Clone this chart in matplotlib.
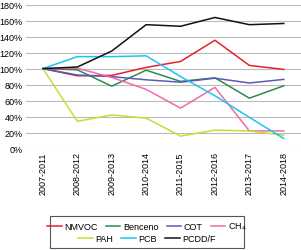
import matplotlib
matplotlib.use("Agg")
import matplotlib.pyplot as plt
from matplotlib.patches import Rectangle

periodos = ["2007-2011", "2008-2012", "2009-2013", "2010-2014",
            "2011-2015", "2012-2016", "2013-2017", "2014-2018"]

nmvoc = [100, 91, 91.5, 101.5, 109, 135.5, 104, 99]
benceno = [100, 98.5, 78, 98, 84, 88.5, 63, 78.5]
cot = [100, 92, 90, 86, 83, 88, 82, 86.5]
ch4 = [100, 100.5, 89, 74, 50.5, 76.5, 22, 22]
pah = [100, 34, 42, 38, 15.5, 23, 22, 16.5]
pcb = [100, 115, 115, 116, 90, 66, 39, 12.5]
pcdd = [100, 102, 122, 155, 153, 164, 155, 156.5]

series = [
    ("NMVOC", nmvoc, "#e8202a"),
    ("Benceno", benceno, "#2e8a4c"),
    ("COT", cot, "#5a5ab4"),
    ("CH$_4$", ch4, "#f06aaa"),
    ("PAH", pah, "#c8dc3a"),
    ("PCB", pcb, "#1cc4f0"),
    ("PCDD/F", pcdd, "#111111"),
]

plt.rcParams["font.family"] = ["Liberation Sans", "DejaVu Sans"]

fig = plt.figure(figsize=(3.01, 2.51), dpi=100)
ax = fig.add_axes([25.7 / 301, 1 - 149.5 / 251, 1 - 25.7 / 301, (149.5 - 5.7) / 251])

x = list(range(len(periodos)))
lines = {}
for name, vals, col in series:
    l, = ax.plot(x, vals, color=col, lw=1.1, label=name)
    lines[name] = l

ax.set_xlim(-0.5, len(periodos) - 0.5)
ax.set_ylim(0, 180)
ax.set_yticks(range(0, 181, 20))
ax.set_yticklabels([f"{v}%" for v in range(0, 181, 20)], fontsize=6.5)
ax.set_xticks(x)
ax.set_xticklabels(periodos, rotation=90, fontsize=6.5)
ax.tick_params(length=0, pad=2)
ax.grid(axis="y", color="#bbbbbb", lw=0.8)
ax.set_axisbelow(True)
for s in ax.spines.values():
    s.set_visible(False)

# legend: two centred rows inside one frame
row1 = [lines[n] for n in ["NMVOC", "Benceno", "COT", "CH$_4$"]]
row2 = [lines[n] for n in ["PAH", "PCB", "PCDD/F"]]
kw = dict(frameon=False, fontsize=6.5, handlelength=1.6, handletextpad=0.3,
          columnspacing=0.9, borderpad=0, loc="center")
fig.legend(handles=row1, ncol=4, bbox_to_anchor=(147 / 301, 1 - 227.5 / 251), **kw)
fig.legend(handles=row2, ncol=3, bbox_to_anchor=(147 / 301, 1 - 240 / 251), **kw)
fig.add_artist(Rectangle((50 / 301, 1 - 249 / 251), 194 / 301, 32.5 / 251,
                         transform=fig.transFigure, fill=False, ec="#555555", lw=0.8))

fig.savefig("out.png", dpi=100)
